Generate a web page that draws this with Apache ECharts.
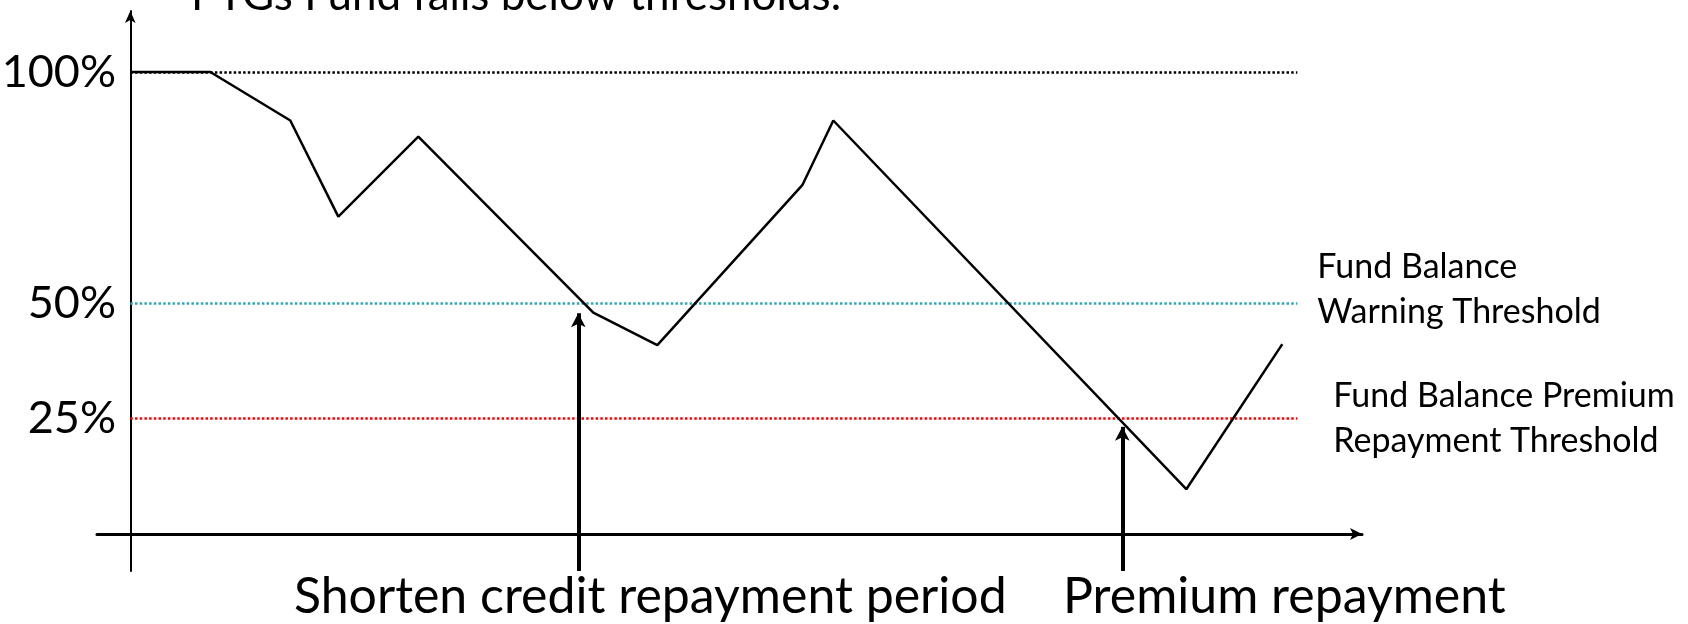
<!DOCTYPE html>
<html>
<head>
<meta charset="utf-8">
<script src="https://cdn.jsdelivr.net/npm/echarts@6/dist/echarts.min.js"></script>
<style>
  html, body { margin: 0; padding: 0; background: #fff; }
  #main { width: 1688px; height: 624px; }
</style>
</head>
<body>
<div id="main"></div>
<script>
var FONT = 'Lato, "Open Sans", sans-serif';

// fund balance path (x = time units, y = % of fund)
var timeX   = [0, 8, 16, 20.8, 28.8, 46.3, 52.7, 67.2, 70.3, 105.6, 115.2];
var balance = [100, 100, 89.5, 68.7, 86, 47.9, 40.9, 75.5, 89.5, 9.7, 41.1];

// thresholds
var thresholdValues = [100, 50, 25];
var thresholdColors = ['#000000', '#2fa6b8', '#ff0000'];
var thresholdLabels = ['', 'Fund Balance\nWarning Threshold\n{s| }', 'Fund Balance Premium\nRepayment Threshold'];
var thresholdEnd = 116.7;

// trigger arrows: x position and where the arrow tip stops
var triggerX   = [44.8, 99.2];
var triggerTip = [47.8, 23.2];
var triggerText = ['Shorten credit repayment period', 'Premium repayment'];

var yTickValues = [25, 50, 100];

var myChart = echarts.init(document.getElementById('main'));

var lineData = [];
for (var i = 0; i < timeX.length; i++) {
  lineData.push([timeX[i], balance[i]]);
}

var markLines = [];
for (var t = 0; t < thresholdValues.length; t++) {
  markLines.push([
    {
      coord: [0, thresholdValues[t]],
      lineStyle: { color: thresholdColors[t], type: [2.5, 2.2], width: 2.5 },
      label: {
        show: thresholdLabels[t] !== '',
        position: 'end',
        distance: t === 1 ? 20 : 36,
        formatter: thresholdLabels[t],
        color: '#000',
        fontFamily: FONT,
        fontSize: 34,
        lineHeight: 45,
        align: 'left',
        rich: { s: { fontSize: 10, lineHeight: 26 } }
      }
    },
    { coord: [thresholdEnd, thresholdValues[t]] }
  ]);
}
for (var k = 0; k < triggerX.length; k++) {
  markLines.push([
    {
      coord: [triggerX[k], -8],
      symbol: 'none',
      lineStyle: { color: '#000', type: 'solid', width: 4 },
      label: { show: false }
    },
    { coord: [triggerX[k], triggerTip[k]], symbol: 'arrow', symbolSize: [11, 14] }
  ]);
}

option = {
  backgroundColor: '#fff',
  animation: false,
  grid: {
    left: 97, right: 326, top: 11, bottom: 53,
    containLabel: false,
    outerBoundsMode: 'none'
  },
  xAxis: {
    type: 'value',
    min: -3.33,
    max: 123.17,
    splitLine: { show: false },
    axisTick: { show: false },
    axisLabel: { show: false },
    axisLine: {
      onZero: true,
      symbol: ['none', 'arrow'],
      symbolSize: [9, 12],
      lineStyle: { color: '#000', width: 3 }
    }
  },
  yAxis: {
    type: 'value',
    min: -8,
    max: 113.2,
    splitLine: { show: false },
    axisTick: { show: false },
    axisLabel: {
      customValues: yTickValues,
      formatter: '{value}%',
      color: '#000',
      fontFamily: FONT,
      fontSize: 45,
      margin: -19
    },
    axisLine: {
      onZero: true,
      symbol: ['none', 'arrow'],
      symbolSize: [8, 12],
      lineStyle: { color: '#000', width: 2 }
    }
  },
  graphic: [
    {
      type: 'text',
      left: 191, top: -26,
      style: { text: 'PTGs Fund falls below thresholds.', font: '44px ' + FONT, fill: '#000' }
    },
    {
      type: 'text',
      left: 294, top: 572,
      style: { text: triggerText[0], font: '50px ' + FONT, fill: '#000' }
    },
    {
      type: 'text',
      left: 1063, top: 572,
      style: { text: triggerText[1], font: '50px ' + FONT, fill: '#000' }
    }
  ],
  series: [
    {
      type: 'line',
      data: lineData,
      symbol: 'none',
      lineStyle: { color: '#000', width: 2.5 },
      z: 3,
      markLine: {
        silent: true,
        symbol: 'none',
        data: markLines,
        z: 2
      }
    }
  ]
};

myChart.setOption(option, true);
</script>
</body>
</html>
